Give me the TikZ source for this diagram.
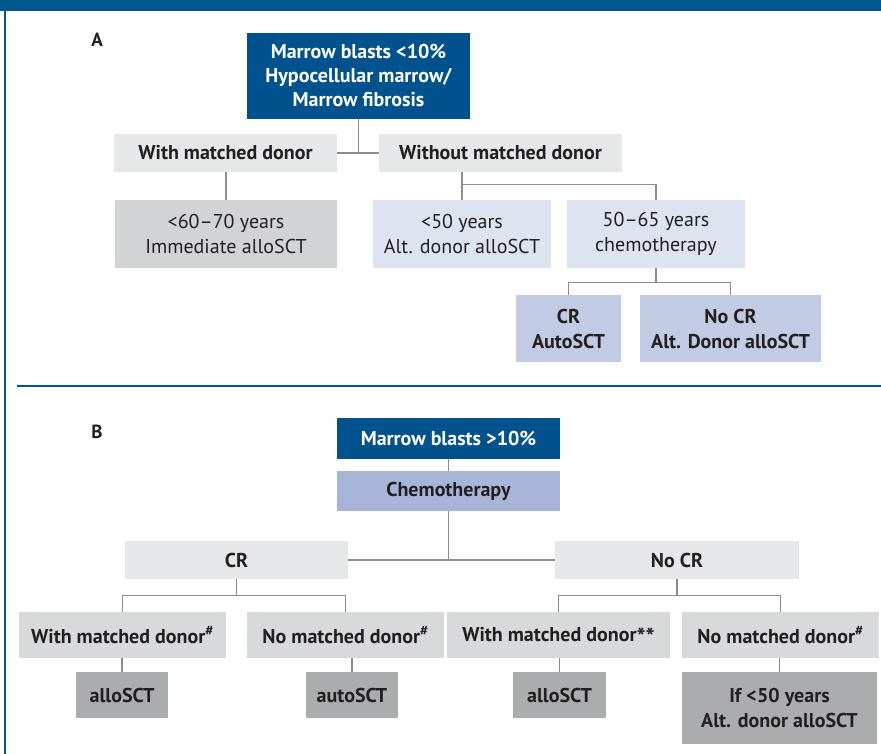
\documentclass[tikz,border=0pt]{standalone}
\usepackage{fontspec}
\setmainfont{PT Sans}
\usetikzlibrary{positioning,calc}

\definecolor{bandblue}{HTML}{00568F}
\definecolor{blastblue}{HTML}{00528F}
\definecolor{chemoblue}{HTML}{A8B5D8}
\definecolor{paleblue}{HTML}{DDE3EF}
\definecolor{crblue}{HTML}{C2CBE4}
\definecolor{lightgrey}{HTML}{E6E7E8}
\definecolor{midgrey}{HTML}{D1D3D4}
\definecolor{rowgrey}{HTML}{D8D9DB}
\definecolor{darkgrey}{HTML}{ABACAE}
\definecolor{linegrey}{HTML}{8A8C8E}
\definecolor{ink}{HTML}{231F20}

\begin{document}
\begin{tikzpicture}[
    x=1pt, y=1pt,
    % box styles
    base_box/.style={rectangle, inner sep=0pt, align=center, text=ink,
                     font=\fontsize{20}{25}\selectfont},
    blast_box/.style={base_box, fill=blastblue, text=white,
                      font=\fontsize{20}{24}\selectfont\bfseries},
    chemo_box/.style={base_box, fill=chemoblue, font=\fontsize{20}{25}\selectfont\bfseries},
    choice_box/.style={base_box, fill=lightgrey, font=\fontsize{20}{25}\selectfont\bfseries},
    donor_box/.style={base_box, fill=rowgrey, font=\fontsize{20}{25}\selectfont\bfseries},
    age_box/.style={base_box, fill=paleblue},
    imm_box/.style={base_box, fill=midgrey},
    resp_box/.style={base_box, fill=crblue, font=\fontsize{20}{25}\selectfont\bfseries},
    sct_box/.style={base_box, fill=darkgrey, font=\fontsize{20}{25}\selectfont\bfseries},
    panel_label/.style={font=\fontsize{19}{22}\selectfont\bfseries, text=ink},
    link/.style={draw=linegrey, line width=1.2pt},
    frame_line/.style={draw=bandblue, line width=1.2pt}
]
\useasboundingbox (0,0) rectangle (881,-754);

% Frame
\fill[bandblue] (0,0) rectangle (881,-11);
\draw[frame_line] (5,-11) -- (5,-754);
\draw[frame_line] (17,-386) -- (881,-386);

% Panel labels
\node[panel_label] (label_a) at (97,-40) {A};
\node[panel_label] (label_b) at (97,-432) {B};

% ---- Panel A ----
\node[blast_box, minimum width=223pt, minimum height=86pt] (blasts_low) at (358.5,-76)
    {Marrow blasts <10\%\\Hypocellular marrow/\\Marrow fibrosis};

% Row 1: donor
\node[choice_box, minimum width=223pt, minimum height=38pt] (with_a) at (225.5,-153) {With matched donor};
\node[choice_box, minimum width=243pt, minimum height=38pt] (without_a) at (500.5,-153) {Without matched donor};

% Row 2: age groups
\node[imm_box, minimum width=222pt, minimum height=68pt] (imm_a) at (226,-234) {<60--70 years\\Immediate alloSCT};
\node[age_box, minimum width=178pt, minimum height=68pt] (young_a) at (462,-234) {<50 years\\Alt. donor alloSCT};
\node[age_box, minimum width=178pt, minimum height=68pt] (chemo_a) at (656,-234) {50--65 years\\chemotherapy};

% Row 3: response
\node[resp_box, minimum width=105pt, minimum height=67pt] (cr_a) at (568.5,-328.5) {CR\\AutoSCT};
\node[resp_box, minimum width=181pt, minimum height=67pt] (nocr_a) at (730.5,-328.5) {No CR\\Alt. Donor alloSCT};

% Connectors A
\draw[link] (with_a.east) -- (without_a.west);
\draw[link] (blasts_low.south) -- (blasts_low.south |- with_a.east);
\draw[link] (imm_a.north |- with_a.south) -- (imm_a.north);
\draw[link] (young_a.north |- without_a.south) -- (young_a.north);
\draw[link] (young_a.north) ++(0,15) coordinate (bus_a1) -| (chemo_a.north);
\draw[link] (chemo_a.south) -- ++(0,-14) coordinate (bus_a2);
\draw[link] (cr_a.north) |- (bus_a2) -| (nocr_a.north);

% ---- Panel B ----
\node[blast_box, minimum width=223pt, minimum height=41pt] (blasts_high) at (448.5,-438.5) {Marrow blasts >10\%};
\node[chemo_box, minimum width=223pt, minimum height=40pt] (chemo_b) at (448.5,-491) {Chemotherapy};

% Row 1: response
\node[choice_box, minimum width=223pt, minimum height=38pt] (cr_b) at (236.5,-560) {CR};
\node[choice_box, minimum width=244pt, minimum height=38pt] (nocr_b) at (677,-560) {No CR};

% Row 2: donor
\node[donor_box, minimum width=207pt, minimum height=46pt] (with_cr) at (122.5,-635) {With matched donor\textsuperscript{\#}};
\node[donor_box, minimum width=197pt, minimum height=46pt] (no_cr) at (345.5,-635) {No matched donor\textsuperscript{\#}};
\node[donor_box, minimum width=223pt, minimum height=46pt] (with_nocr) at (558.5,-635) {With matched donor\smash{\raisebox{-0.35ex}{\fontsize{24}{25}\selectfont **}}};
\node[donor_box, minimum width=197pt, minimum height=46pt] (no_nocr) at (780.5,-635) {No matched donor\textsuperscript{\#}};

% Row 3: transplant
\node[sct_box, minimum width=92pt, minimum height=46pt] (allo_1) at (122,-695) {alloSCT};
\node[sct_box, minimum width=92pt, minimum height=46pt] (auto_1) at (352,-695) {autoSCT};
\node[sct_box, minimum width=93pt, minimum height=46pt] (allo_2) at (559.5,-695) {alloSCT};
\node[sct_box, minimum width=195pt, minimum height=72pt] (alt_allo) at (779.5,-708) {If <50 years\\Alt. donor alloSCT};

% Connectors B
\draw[link] (blasts_high) -- (chemo_b);
\draw[link] (chemo_b.south) -- (chemo_b.south |- cr_b.east);
\draw[link] (cr_b.east) -- (nocr_b.west);
\draw[link] (cr_b.south) -- ++(0,-16) coordinate (bus_b1);
\draw[link] (with_cr.north) |- (bus_b1) -| (no_cr.north);
\draw[link] (nocr_b.south) -- ++(0,-16) coordinate (bus_b2);
\draw[link] (with_nocr.north) |- (bus_b2) -| (no_nocr.north);
\draw[link] (allo_1.north |- with_cr.south) -- (allo_1.north);
\draw[link] (auto_1.north |- no_cr.south) -- (auto_1.north);
\draw[link] (allo_2.north |- with_nocr.south) -- (allo_2.north);
\draw[link] (alt_allo.north |- no_nocr.south) -- (alt_allo.north);

\end{tikzpicture}
\end{document}
